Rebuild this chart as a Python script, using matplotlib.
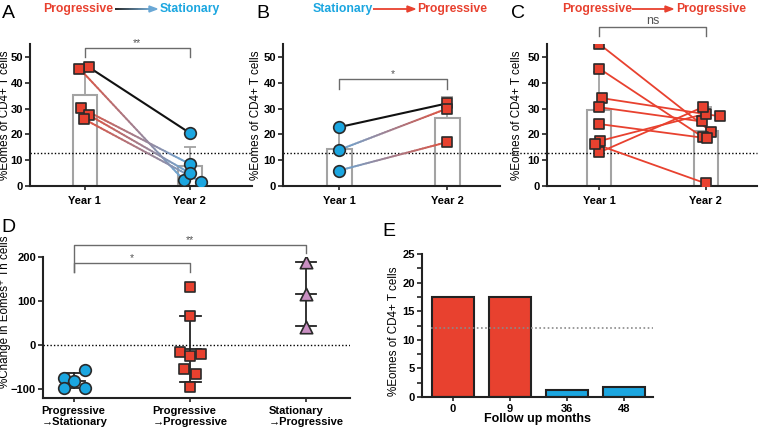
import numpy as np
import matplotlib
matplotlib.use('Agg')
import matplotlib.pyplot as plt
from matplotlib.collections import LineCollection
from matplotlib.colors import to_rgb
from matplotlib.ticker import MultipleLocator

plt.rcParams['font.family'] = ['Liberation Sans', 'DejaVu Sans']

# ---------------- data ----------------
years = ['Year 1', 'Year 2']

# panel A: progressive -> stationary (pairs in same order)
a_year1 = [46.0, 45.5, 30.3, 27.5, 26.0]
a_year2 = [20.5, 2.3, 8.5, 5.0, 1.5]
a_jit1 = [0.04, -0.05, -0.04, 0.04, -0.01]
a_jit2 = [0.0, -0.06, 0.0, 0.0, 0.11]

# panel B: stationary -> progressive
b_year1 = [22.8, 14.0, 6.0]
b_year2 = [32.0, 30.0, 17.0]

# panel C: progressive -> progressive
c_year1 = [55.0, 45.5, 34.0, 30.5, 24.0, 17.5, 13.0, 16.3]
c_year2 = [21.0, 19.0, 27.0, 25.0, 18.5, 28.0, 30.5, 1.0]
c_jit1 = [0.0, 0.0, 0.03, 0.0, 0.0, 0.01, 0.0, -0.04]
c_jit2 = [0.05, -0.03, 0.13, -0.04, 0.01, 0.0, -0.03, 0.0]

threshold = 12.8

# panel D: % change
d_groups = ['Progressive\n\u2192Stationary', 'Progressive\n\u2192Progressive', 'Stationary\n\u2192Progressive']
d_prog_stat = [-56, -74, -81.5, -96.5, -96.5]
d_prog_prog = [133, 67, -16, -24, -20, -55, -66, -94]
d_stat_prog = [188, 116, 42]
d_jit1 = [0.09, -0.09, 0.0, -0.09, 0.09]
d_jit2 = [0.0, 0.0, -0.09, 0.0, 0.09, -0.05, 0.05, 0.0]

# panel E: follow up
e_months = ['0', '9', '36', '48']
e_values = [17.5, 17.5, 1.2, 1.8]
e_threshold = 12.1

RED = '#E8412F'
BLUE = '#1BA6E0'
PINK = '#C98FC2'
LBLUE = '#6AA8D6'
EDGE = '#2a2a2a'
GREY = '#A3A3A3'

TICK_FS = 8
LAB_FS = 8.4

W, H = 760, 430
fig = plt.figure(figsize=(7.6, 4.3), dpi=100)


def add_ax(l, r, t, b):
    return fig.add_axes([l / W, (H - b) / H, (r - l) / W, (b - t) / H])


def style(ax):
    for s in ['top', 'right']:
        ax.spines[s].set_visible(False)
    for s in ['left', 'bottom']:
        ax.spines[s].set_linewidth(1.5)
        ax.spines[s].set_color('#222222')
    ax.tick_params(width=1.2, length=3.5, color='#222222', labelsize=TICK_FS, pad=1.5)
    for lab in ax.get_xticklabels() + ax.get_yticklabels():
        lab.set_fontweight('bold')


def grad_line(ax, x0, y0, x1, y1, c0, c1, lw=1.4, n=40, zorder=3):
    t = np.linspace(0, 1, n + 1)
    xs = x0 + (x1 - x0) * t
    ys = y0 + (y1 - y0) * t
    segs = np.stack([np.column_stack([xs[:-1], ys[:-1]]),
                     np.column_stack([xs[1:], ys[1:]])], axis=1)
    a = np.array(to_rgb(c0))
    b = np.array(to_rgb(c1))
    tm = (t[:-1] + t[1:]) / 2
    cols = a[None, :] + (b - a)[None, :] * tm[:, None]
    lc = LineCollection(segs, colors=cols, linewidths=lw, capstyle='round', zorder=zorder)
    ax.add_collection(lc)


def bars_sd(ax, groups):
    for i, vals in enumerate(groups):
        m = np.mean(vals)
        sd = np.std(vals, ddof=1)
        ax.bar(i, m, width=0.23, fill=False, edgecolor=GREY, linewidth=1.5, zorder=1)
        ax.errorbar(i, m, yerr=[[0], [sd]], color=GREY, lw=1.3, capsize=4, capthick=1.3, zorder=1)


def bracket(ax, x0, x1, ytop, yleg0, yleg1, txt, tsize=7.5):
    ax.plot([x0, x0, x1, x1], [yleg0, ytop, ytop, yleg1], color='#6b6b6b', lw=1.0,
            clip_on=False, zorder=2)
    ax.text((x0 + x1) / 2, ytop, txt, ha='center', va='bottom', fontsize=tsize,
            color='#555555', clip_on=False)


def ylabel_at(ax, text, x_px, ycenter_px=None):
    # place the y label so that its centre sits at the given pixel column
    l, b, w, h = ax.get_position().bounds
    ax.set_ylabel(text, fontsize=LAB_FS)
    xf = (x_px + 5 - l * W) / (w * W)
    if ycenter_px is None:
        yf = 0.5
    else:
        yf = ((H - ycenter_px) - b * H) / (h * H)
    ax.yaxis.set_label_coords(xf, yf)


def pair_axes(ax, xlim, label_x):
    ax.set_xlim(*xlim)
    ax.set_ylim(0, 55)
    ax.set_xticks([0, 1])
    ax.set_xticklabels(years)
    ax.set_yticks([0, 10, 20, 30, 40, 50])
    ylabel_at(ax, '%Eomes of CD4+ T cells', label_x)
    style(ax)
    ax.tick_params(axis='x', length=3, pad=4)


def title(parts):
    for x, txt, col in parts:
        fig.text(x / W, (H - 9) / H, txt, color=col, fontsize=8.8, fontweight='bold',
                 ha='left', va='center')


def arrow(x0, x1, c0, c1):
    y = H - 9
    t = np.linspace(0, 1, 41)
    xs = x0 + (x1 - 6 - x0) * t
    a = np.array(to_rgb(c0))
    b = np.array(to_rgb(c1))
    for k in range(40):
        c = a + (b - a) * (k + 0.5) / 40
        fig.add_artist(plt.Line2D([xs[k] / W, xs[k + 1] / W], [y / H, y / H], color=c, lw=1.3,
                                  solid_capstyle='butt', transform=fig.transFigure))
    fig.add_artist(plt.Polygon([[(x1 - 8) / W, (y + 3) / H], [x1 / W, y / H], [(x1 - 8) / W, (y - 3) / H]],
                               closed=True, color=c1, transform=fig.transFigure))


# ---------------- panel A ----------------
axA = add_ax(30, 252, 44, 186)
pair_axes(axA, (-0.52, 1.59), 6.5)
bars_sd(axA, [a_year1, a_year2])
axA.axhline(threshold, color='black', ls=(0, (1, 1.5)), lw=1.0, zorder=1)
for i in range(len(a_year1)):
    x0, x1 = 0 + a_jit1[i], 1 + a_jit2[i]
    if i == 0:
        axA.plot([x0, x1], [a_year1[i], a_year2[i]], color='#111111', lw=1.5, zorder=3)
    else:
        grad_line(axA, x0, a_year1[i], x1, a_year2[i], '#E0523F', LBLUE)
axA.scatter(np.array(a_jit1), a_year1, marker='s', s=62, color=RED, edgecolor=EDGE, lw=1.2, zorder=4)
axA.scatter(1 + np.array(a_jit2), a_year2, marker='o', s=70, color=BLUE, edgecolor=EDGE, lw=1.2, zorder=4)
bracket(axA, 0, 1, 53.5, 50, 50, '**')

# ---------------- panel B ----------------
axB = add_ax(283, 500, 44, 186)
pair_axes(axB, (-0.52, 1.49), 257)
bars_sd(axB, [b_year1, b_year2])
axB.axhline(threshold, color='black', ls=(0, (1, 1.5)), lw=1.0, zorder=1)
for i in range(len(b_year1)):
    if i == 0:
        axB.plot([0, 1], [b_year1[i], b_year2[i]], color='#111111', lw=1.5, zorder=3)
    else:
        grad_line(axB, 0, b_year1[i], 1, b_year2[i], LBLUE, '#E0523F')
axB.scatter(np.zeros(len(b_year1)), b_year1, marker='o', s=70, color=BLUE, edgecolor=EDGE, lw=1.2, zorder=4)
axB.scatter(np.ones(len(b_year2)), b_year2, marker='s', s=62, color=RED, edgecolor=EDGE, lw=1.2, zorder=4)
bracket(axB, 0, 1, 41.5, 37.6, 37.6, '*')

# ---------------- panel C ----------------
axC = add_ax(547, 757, 44, 186)
pair_axes(axC, (-0.49, 1.48), 518)
bars_sd(axC, [c_year1, c_year2])
axC.axhline(threshold, xmin=-0.23, xmax=1.0, color='black', ls=(0, (1, 1.5)), lw=1.0,
            zorder=1, clip_on=False)
for i in range(len(c_year1)):
    axC.plot([c_jit1[i], 1 + c_jit2[i]], [c_year1[i], c_year2[i]], color=RED, lw=1.3, zorder=3)
axC.scatter(np.array(c_jit1), c_year1, marker='s', s=62, color=RED, edgecolor=EDGE, lw=1.2, zorder=4)
axC.scatter(1 + np.array(c_jit2), c_year2, marker='s', s=62, color=RED, edgecolor=EDGE, lw=1.2, zorder=4)
bracket(axC, 0, 1, 61.6, 58, 58, 'ns', tsize=9)

# ---------------- panel D ----------------
axD = add_ax(43, 350, 257, 398)
axD.set_xlim(-0.27, 2.38)
axD.set_ylim(-120, 200)
axD.axhline(0, color='black', ls=(0, (1, 1.5)), lw=1.0, zorder=1)
d_sets = [d_prog_stat, d_prog_prog, d_stat_prog]
for i, vals in enumerate(d_sets):
    m = np.mean(vals)
    sd = np.std(vals, ddof=1)
    axD.plot([i, i], [m - sd, m + sd], color='#222222', lw=1.3, zorder=2)
    for yv in (m - sd, m, m + sd):
        axD.plot([i - 0.09, i + 0.09], [yv, yv], color='#222222', lw=1.3, zorder=2)
axD.scatter(0 + np.array(d_jit1), d_prog_stat, marker='o', s=70, color=BLUE, edgecolor=EDGE, lw=1.2, zorder=4)
axD.scatter(1 + np.array(d_jit2), d_prog_prog, marker='s', s=62, color=RED, edgecolor=EDGE, lw=1.2, zorder=4)
axD.scatter(2 + np.zeros(len(d_stat_prog)), d_stat_prog, marker='^', s=80, color=PINK, edgecolor=EDGE, lw=1.2, zorder=4)
axD.set_xticks([0, 1, 2])
axD.set_xticklabels(d_groups, multialignment='left', linespacing=1.05)
axD.set_yticks([-100, 0, 100, 200])
ylabel_at(axD, '%Change in Eomes\u207a Th cells', 6.5, 312)
style(axD)
axD.tick_params(axis='x', length=3, pad=3)
bracket(axD, 0, 1, 186, 166, 166, '*')
bracket(axD, 0, 2, 227, 166, 209, '**')

# ---------------- panel E ----------------
axE = add_ax(422, 653, 254, 397)
xe = np.arange(len(e_months))
axE.bar(xe, e_values, width=0.74, color=[RED, RED, BLUE, BLUE], edgecolor='#222222', linewidth=1.5, zorder=2)
axE.axhline(e_threshold, xmin=0.04, xmax=1.0, color='#8a8a8a', ls=(0, (1, 1.5)), lw=1.2, zorder=3)
axE.set_xlim(-0.54, 3.51)
axE.set_ylim(0, 25)
axE.set_xticks(xe)
axE.set_xticklabels(e_months)
axE.set_yticks([0, 5, 10, 15, 20, 25])
axE.yaxis.set_minor_locator(MultipleLocator(2.5))
ylabel_at(axE, '%Eomes of CD4+ T cells', 395, 331)
axE.set_xlabel('Follow up months', fontsize=9, fontweight='bold', labelpad=-1)
style(axE)
axE.tick_params(axis='y', which='minor', width=1.2, length=3.5, color='#222222')
axE.tick_params(axis='x', length=3, pad=2)

# ---------------- titles & panel letters ----------------
title([(43, 'Progressive', RED), (160, 'Stationary', BLUE)])
arrow(115, 157, '#111111', LBLUE)
title([(313, 'Stationary', BLUE), (417, 'Progressive', RED)])
arrow(373, 415, RED, RED)
title([(562, 'Progressive', RED), (676, 'Progressive', RED)])
arrow(632, 673, RED, RED)

for x, y, letter in [(2, 13, 'A'), (256, 13, 'B'), (511, 13, 'C'), (1, 228, 'D'), (382, 231, 'E')]:
    fig.text(x / W, (H - y) / H, letter, fontsize=14, ha='left', va='center')

fig.savefig('out.png', dpi=100)
